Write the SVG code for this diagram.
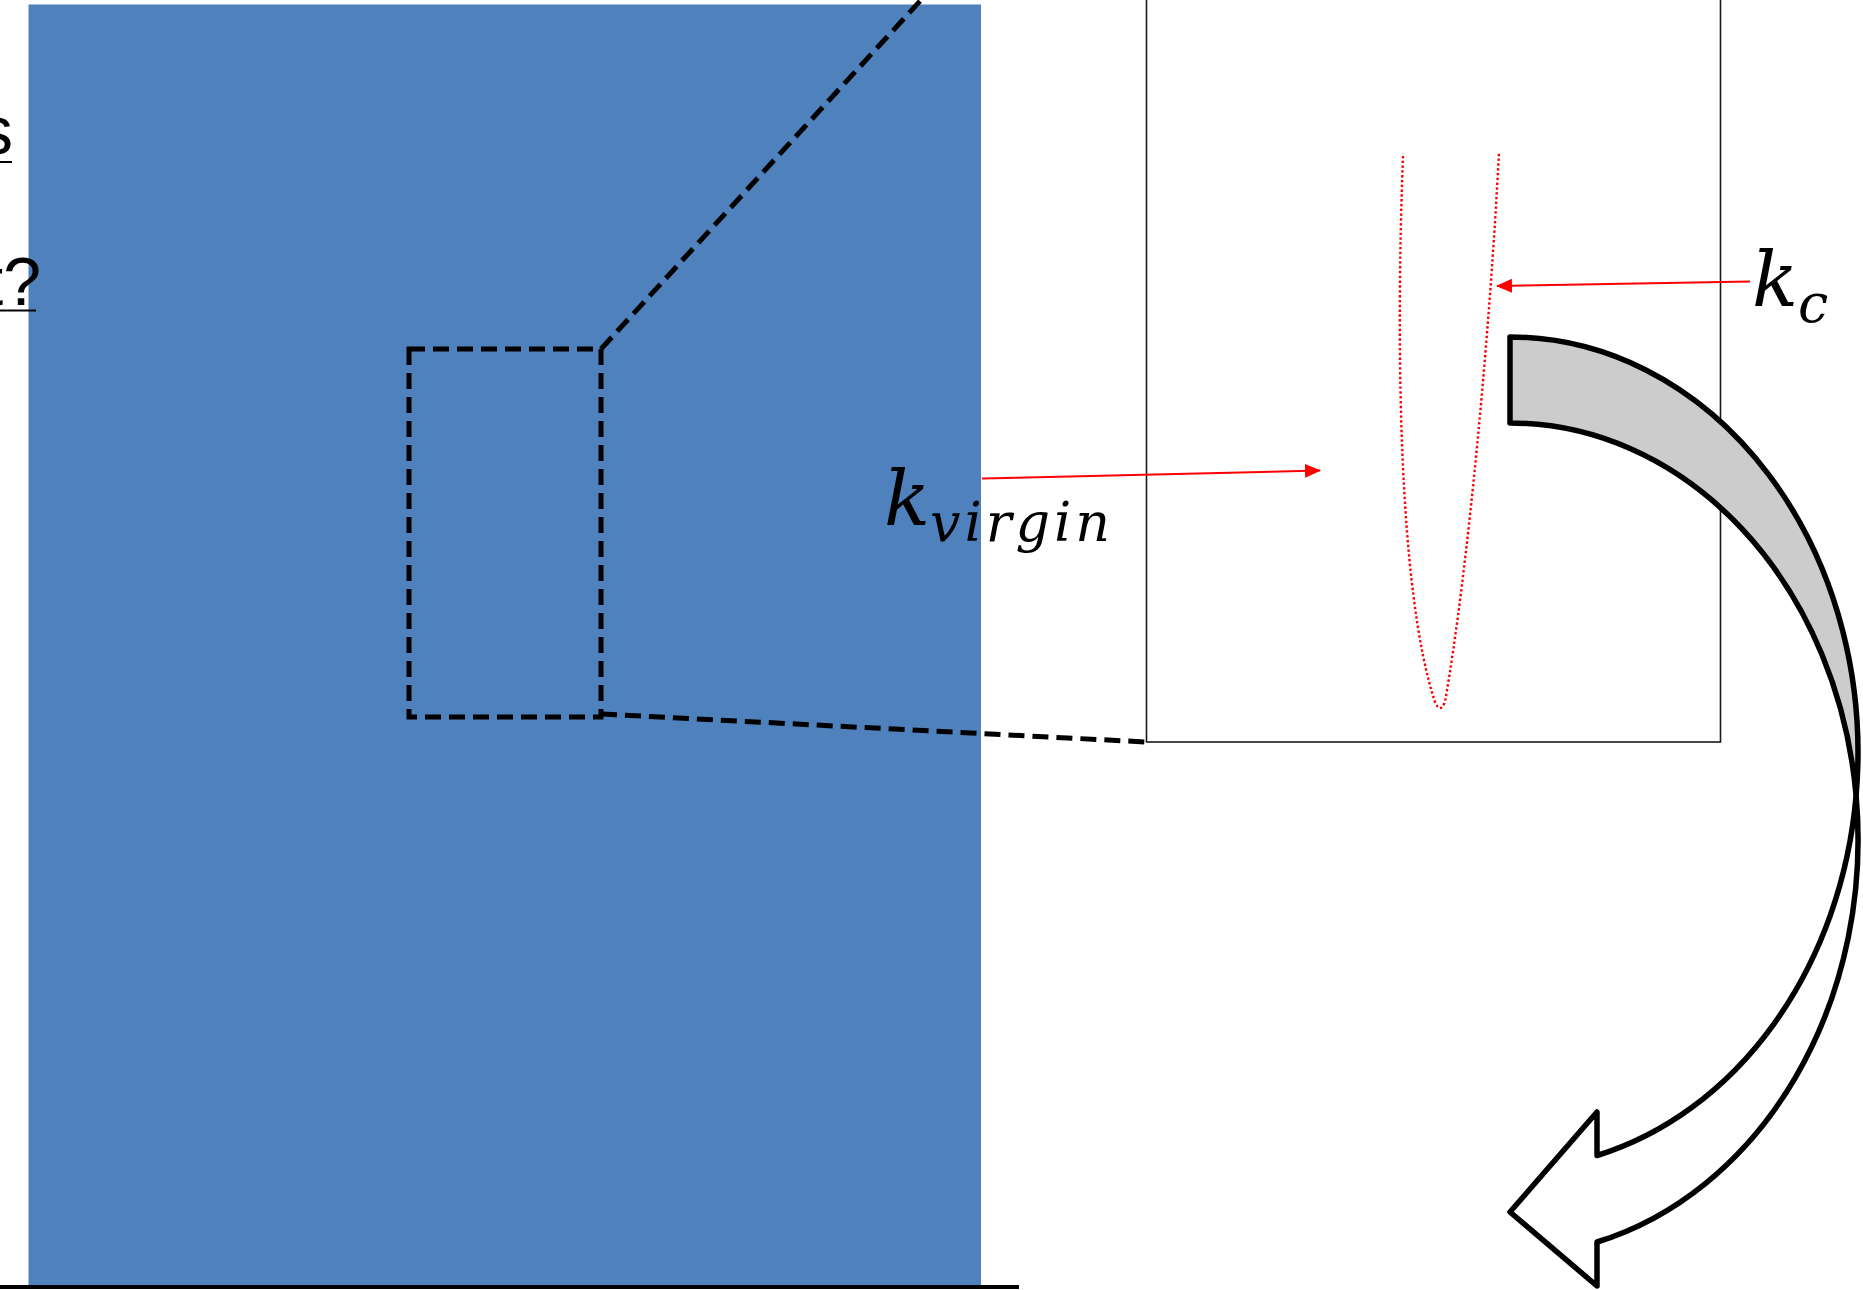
<svg xmlns="http://www.w3.org/2000/svg" width="1863" height="1290" viewBox="0 0 1863 1290">
  <style>
    .dash { fill: none; stroke: #000; stroke-width: 5; stroke-dasharray: 16 8; }
    .red { fill: none; stroke: #FF0000; stroke-width: 2; }
    .math { font-family: "DejaVu Serif", "Liberation Serif", serif; font-style: italic; fill: #000; }
    .side { font-family: "Liberation Sans", Arial, sans-serif; font-size: 68px; fill: #000; }
    .arrowbody { stroke: #000; stroke-width: 5.5; stroke-linejoin: round; }
  </style>
  <defs>
    <marker id="redhead" markerUnits="userSpaceOnUse" markerWidth="16" markerHeight="14" refX="15" refY="7" orient="auto">
      <path d="M0,0 L16,7 L0,14 Z" fill="#FF0000"/>
    </marker>
  </defs>
  <rect width="1863" height="1290" fill="#FFFFFF"/>

  <g id="blue-panel">
    <rect x="28.5" y="4.5" width="952.5" height="1284" fill="#4F81BD"/>
  </g>

  <g id="side-text">
    <text class="side" x="13" y="154" text-anchor="end">s</text>
    <line x1="0" y1="162" x2="12" y2="162" stroke="#000" stroke-width="2"/>
    <text class="side" x="41" y="305" text-anchor="end">t?</text>
    <line x1="0" y1="310.5" x2="36" y2="310.5" stroke="#000" stroke-width="2"/>
  </g>

  <g id="base-line">
    <line x1="0" y1="1287" x2="1019" y2="1287" stroke="#000" stroke-width="4"/>
  </g>

  <g id="zoom-region">
    <rect class="dash" x="409" y="349" width="192" height="368"/>
  </g>

  <g id="zoom-box">
    <rect x="1146.5" y="-5" width="574" height="747" fill="#FFFFFF" stroke="#1a1a1a" stroke-width="1.6"/>
  </g>

  <g id="crack-curve">
    <path d="M1403,156 C1396,340 1398,590 1435,702 Q1440,714 1445,702 C1468,570 1490,330 1499,152" fill="none" stroke="#FF0000" stroke-width="2.4" stroke-dasharray="2.4 2.4"/>
  </g>

  <g id="connectors">
    <line class="dash" x1="601" y1="349" x2="921" y2="0"/>
    <line class="dash" x1="601" y1="714" x2="1146" y2="742"/>
    <line class="red" x1="982" y1="478.5" x2="1320" y2="470.5" marker-end="url(#redhead)"/>
    <line class="red" x1="1750" y1="281.5" x2="1497" y2="286" marker-end="url(#redhead)"/>
  </g>

  <g id="label-kvirgin">
    <text class="math" x="884" y="525" font-size="76">k<tspan font-size="54" dy="16" textLength="180" lengthAdjust="spacing">virgin</tspan></text>
  </g>

  <g id="label-kc">
    <text class="math" x="1752" y="306" font-size="76">k<tspan font-size="54" dy="16">c</tspan></text>
  </g>

  <g id="curved-arrow">
    <path class="arrowbody" fill="#CCCCCC" d="M1510,337 A348,415.6 0 0 1 1856.1,795.6 A348,415.6 0 0 0 1510,423 Z"/>
    <path class="arrowbody" fill="#FFFFFF" d="M1856.1,795.6 A348,415.6 0 0 1 1597,1242 L1597,1286 L1510,1212 L1597,1112 L1597,1155.5 A348,415.6 0 0 0 1856.1,795.6 Z"/>
  </g>
</svg>
